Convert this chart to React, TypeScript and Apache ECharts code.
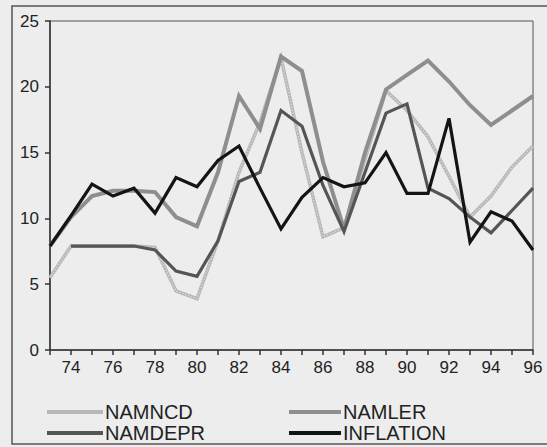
import React, { useEffect, useRef } from "react";
import * as echarts from "echarts";

const years = ["73","74","75","76","77","78","79","80","81","82","83","84","85","86","87","88","89","90","91","92","93","94","95","96"];
const namncd = [5.5, 7.9, 7.9, 7.9, 7.9, 7.8, 4.5, 3.9, 8.3, 13.5, 17.3, 22.2, 15.0, 8.6, 9.3, 14.5, 19.7, 18.2, 16.2, 13.2, 10.1, 11.7, 13.9, 15.5];
const namdepr = [null, 7.9, 7.9, 7.9, 7.9, 7.6, 6.0, 5.6, 8.3, 12.8, 13.5, 18.2, 17.0, 12.5, 9.0, 13.5, 18.0, 18.7, 12.3, 11.5, 10.1, 8.9, 10.6, 12.3];
const namler = [7.9, 10.1, 11.7, 12.1, 12.1, 12.0, 10.1, 9.4, 13.5, 19.3, 16.8, 22.3, 21.2, 14.3, 9.2, 15.0, 19.8, 20.9, 22.0, 20.4, 18.6, 17.1, 18.2, 19.3];
const inflation = [7.9, 10.2, 12.6, 11.7, 12.3, 10.4, 13.1, 12.4, 14.4, 15.5, 12.3, 9.2, 11.6, 13.1, 12.4, 12.7, 15.0, 11.9, 11.9, 17.6, 8.2, 10.5, 9.8, 7.6];

const FONT = "Liberation Sans, Arial, sans-serif";

export default function App() {
  const ref = useRef<HTMLDivElement>(null);
  useEffect(() => {
    if (!ref.current) return;
    const chart = echarts.init(ref.current, undefined, { renderer: "svg" });
    const line = (name: string, data: (number | null)[], color: string, width: number, z: number) => ({
      name,
      type: "line",
      data,
      symbol: "none",
      z,
      lineStyle: { color, width, join: "miter" },
      itemStyle: { color },
    });
    const leg = (name: string, left: number, top: number, w: number) => ({
      data: [name],
      orient: "horizontal",
      left,
      top,
      itemWidth: w,
      itemHeight: 4,
      icon: "rect",
      padding: 0,
      textStyle: { fontFamily: FONT, fontSize: 20, color: "#222", padding: [0, 0, 0, -3] },
    });
    chart.setOption({
      animation: false,
      backgroundColor: "#ededed",
      grid: { left: 50, right: 14, top: 21, bottom: 97, show: true, borderColor: "#555", borderWidth: 1 },
      xAxis: {
        type: "category",
        data: years,
        boundaryGap: false,
        axisLine: { lineStyle: { color: "#333", width: 1.5 } },
        axisTick: { interval: 0, length: 5, lineStyle: { color: "#333", width: 1.5 } },
        axisLabel: {
          interval: (i: number) => i % 2 === 1,
          color: "#222",
          fontFamily: FONT,
          fontSize: 17,
          margin: 9,
        },
        splitLine: { show: false },
      },
      yAxis: {
        type: "value",
        min: 0,
        max: 25,
        interval: 5,
        axisLine: { show: true, lineStyle: { color: "#333", width: 1.5 } },
        axisTick: { show: true, length: 5, lineStyle: { color: "#333", width: 1.5 } },
        axisLabel: { color: "#222", fontFamily: FONT, fontSize: 17, margin: 11 },
        splitLine: { show: false },
      },
      legend: [
        leg("NAMNCD", 47, 402, 56),
        leg("NAMDEPR", 47, 423, 56),
        leg("NAMLER", 289, 402, 52),
        leg("INFLATION", 289, 423, 52),
      ],
      graphic: [
        {
          type: "rect",
          shape: { x: 12, y: 6, width: 560, height: 438 },
          style: { fill: "none", stroke: "#555", lineWidth: 1.5 },
          silent: true,
        },
      ],
      series: [
        line("NAMNCD", namncd, "#b8b8b8", 3.5, 2),
        {
          type: "line",
          data: namncd,
          symbol: "none",
          z: 3,
          silent: true,
          lineStyle: { color: "#e6e6e6", width: 1.2, type: [1, 2] },
        },
        line("NAMLER", namler, "#8e8e8e", 4, 4),
        line("NAMDEPR", namdepr, "#555555", 3.2, 5),
        line("INFLATION", inflation, "#141414", 3.2, 6),
      ],
    });
    return () => chart.dispose();
  }, []);
  return <div ref={ref} style={{ position: "fixed", left: 0, top: 0, width: 547, height: 447 }} />;
}
